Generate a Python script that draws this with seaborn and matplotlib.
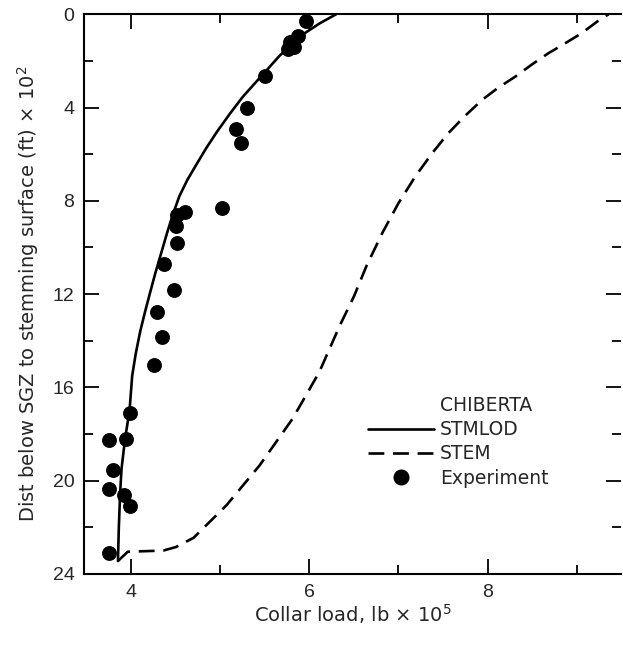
import matplotlib
matplotlib.use("Agg")
import matplotlib.pyplot as plt
import seaborn as sns
from matplotlib.lines import Line2D
from matplotlib.legend_handler import HandlerLine2D
from matplotlib.ticker import MultipleLocator

# collar load (lb x 1e5) vs depth below SGZ (ft x 1e2)
stmlod_load = [3.85, 3.86, 3.875, 3.89, 3.93, 3.98, 4.01, 4.05, 4.10, 4.155, 4.21, 4.27,
               4.335, 4.40, 4.465, 4.54, 4.63, 4.73, 4.84, 4.96, 5.11, 5.25, 5.39, 5.52,
               5.66, 5.81, 5.96, 6.12, 6.30]
stmlod_depth = [23.45, 22.0, 20.5, 19.5, 18.2, 17.0, 15.5, 14.55, 13.6, 12.75, 11.95, 11.1,
                10.25, 9.4, 8.6, 7.8, 7.1, 6.45, 5.75, 5.05, 4.25, 3.55, 2.95, 2.4,
                1.8, 1.25, 0.78, 0.38, 0.0]

stem_load = [3.85, 3.96, 4.36, 4.50, 4.70, 5.07, 5.44, 5.81, 6.11, 6.34, 6.50, 6.64,
             6.82, 7.00, 7.19, 7.38, 7.56, 7.75, 7.94, 8.12, 8.31, 8.50, 8.68, 8.87,
             9.05, 9.24, 9.36]
stem_depth = [23.45, 23.05, 23.0, 22.85, 22.45, 21.05, 19.35, 17.35, 15.35, 13.36, 12.1, 10.8,
              9.37, 8.1, 6.95, 5.95, 5.10, 4.35, 3.67, 3.15, 2.68, 2.15, 1.68, 1.25,
              0.83, 0.29, 0.0]

exp_load = [5.96, 5.87, 5.78, 5.83, 5.76, 5.50, 5.30, 5.18, 5.23, 5.02, 4.60, 4.51,
            4.50, 4.51, 4.37, 4.48, 4.29, 4.34, 4.26, 3.98, 3.75, 3.94, 3.79, 3.75,
            3.92, 3.98, 3.75]
exp_depth = [0.28, 0.95, 1.19, 1.40, 1.50, 2.65, 4.03, 4.91, 5.53, 8.33, 8.49, 8.59,
             9.06, 9.81, 10.72, 11.82, 12.75, 13.86, 15.03, 17.09, 18.25, 18.21, 19.53, 20.37,
             20.62, 21.10, 23.12]

legend_labels = ["CHIBERTA", "STMLOD", "STEM", "Experiment"]


class EndMarker(HandlerLine2D):
    # put the legend dot at the right end of the handle, next to the text
    def get_xdata(self, legend, xdescent, ydescent, width, height, fontsize):
        xdata, _ = super().get_xdata(legend, xdescent, ydescent, width, height, fontsize)
        return xdata, [-xdescent + width - 0.3 * fontsize]


sns.set_style("ticks")
plt.rcParams["font.family"] = ["Liberation Sans", "DejaVu Sans"]
plt.rcParams["mathtext.default"] = "regular"
wide = ["DejaVu Sans"]

fig, ax = plt.subplots(figsize=(6.23, 6.47), dpi=100)
fig.subplots_adjust(left=0.135, right=0.997, bottom=0.113, top=0.978)

dash = (0, (6, 3.3))
sns.lineplot(x=stmlod_load, y=stmlod_depth, sort=False, estimator=None,
             color="black", linewidth=1.9, ax=ax)
sns.lineplot(x=stem_load, y=stem_depth, sort=False, estimator=None,
             color="black", linewidth=1.9, linestyle=dash, ax=ax)
sns.scatterplot(x=exp_load, y=exp_depth, color="black", s=115, linewidth=0, ax=ax, zorder=3)

ax.set_xlim(3.47, 9.5)
ax.set_ylim(24, 0)
ax.xaxis.set_major_locator(MultipleLocator(2))
ax.xaxis.set_minor_locator(MultipleLocator(1))
ax.yaxis.set_major_locator(MultipleLocator(4))
ax.yaxis.set_minor_locator(MultipleLocator(2))
ax.tick_params(which="both", direction="in", top=True, right=True, width=1.3,
               labelsize=14, pad=7, color="black")
ax.tick_params(which="major", length=11)
ax.tick_params(which="minor", length=6.5)

ax.spines["right"].set_visible(False)
for s in ["left", "top", "bottom"]:
    ax.spines[s].set_linewidth(1.5)
    ax.spines[s].set_color("black")

ax.set_xlabel(r"Collar load, lb × 10$^5$", fontsize=14, labelpad=1, family=wide)
ax.set_ylabel(r"Dist below SGZ to stemming surface (ft) × 10$^2$", fontsize=14,
              labelpad=8, family=wide)

handles = [
    Line2D([], [], linestyle="none"),
    Line2D([], [], color="black", linewidth=1.9),
    Line2D([], [], color="black", linewidth=1.9, linestyle=dash),
    Line2D([], [], linestyle="none", marker="o", color="black", markersize=10.5),
]
ax.legend(handles, legend_labels, loc="upper left", bbox_to_anchor=(0.529, 0.318),
          frameon=False, prop={"family": wide, "size": 13.5}, handlelength=3.5,
          handletextpad=0.32, labelspacing=0.28, borderpad=0, borderaxespad=0,
          handler_map={handles[3]: EndMarker(numpoints=1)})

fig.savefig("out.png", dpi=100)
